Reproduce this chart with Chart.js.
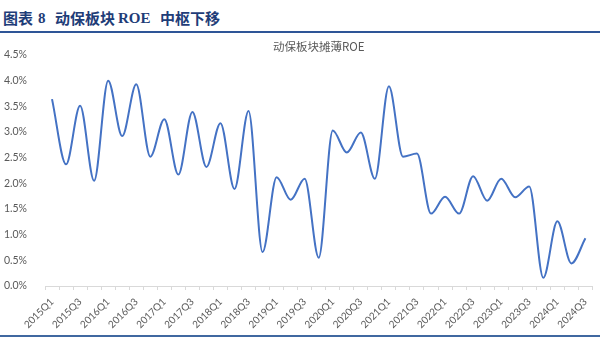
<!DOCTYPE html>
<html>
<head>
<meta charset="utf-8">
<script src="https://cdn.jsdelivr.net/npm/chart.js@4/dist/chart.umd.min.js"></script>
<style>
  html, body { margin: 0; padding: 0; background: #fff; }
  #wrap { position: relative; width: 600px; height: 338px; overflow: hidden; }
  .hd { position: absolute; top: 9px; font-size: 15px; font-weight: bold; color: #1F3D78; line-height: 18px; white-space: nowrap; }
  .cjk { font-family: "Noto Sans CJK SC", sans-serif; }
  .lat { font-family: "Liberation Serif", serif; }
  #rule-top { position: absolute; left: 0; top: 31px; width: 600px; height: 2px; background: #2E5597; }
  #rule-bot { position: absolute; left: 0; top: 335px; width: 600px; height: 2px; background: #4068A0; }
  #box { position: absolute; left: 0; top: 35px; width: 600px; height: 299px; }
</style>
</head>
<body>
<div id="wrap">
  <span class="hd cjk" style="left:3px">图表</span>
  <span class="hd lat" style="left:38px">8</span>
  <span class="hd cjk" style="left:55px">动保板块</span>
  <span class="hd lat" style="left:118px">ROE</span>
  <span class="hd cjk" style="left:160px">中枢下移</span>
  <div id="rule-top"></div>
  <div id="box"><canvas id="c"></canvas></div>
  <div id="rule-bot"></div>
</div>
<script>
// Quarterly diluted ROE of the animal-health sector (%)
const quarters = [
  '2015Q1','2015Q2','2015Q3','2015Q4',
  '2016Q1','2016Q2','2016Q3','2016Q4',
  '2017Q1','2017Q2','2017Q3','2017Q4',
  '2018Q1','2018Q2','2018Q3','2018Q4',
  '2019Q1','2019Q2','2019Q3','2019Q4',
  '2020Q1','2020Q2','2020Q3','2020Q4',
  '2021Q1','2021Q2','2021Q3','2021Q4',
  '2022Q1','2022Q2','2022Q3','2022Q4',
  '2023Q1','2023Q2','2023Q3','2023Q4',
  '2024Q1','2024Q2','2024Q3'
];
const roe = [
  3.64, 2.37, 3.51, 2.05,
  4.00, 2.92, 3.93, 2.52,
  3.25, 2.17, 3.39, 2.32,
  3.17, 1.89, 3.41, 0.66,
  2.12, 1.68, 2.09, 0.55,
  3.03, 2.60, 2.99, 2.09,
  3.89, 2.52, 2.58, 1.41,
  1.74, 1.41, 2.14, 1.66,
  2.09, 1.73, 1.94, 0.16,
  1.26, 0.44, 0.93
];
const yTicks = [0, 0.5, 1.0, 1.5, 2.0, 2.5, 3.0, 3.5, 4.0, 4.5];
const chartTitle = '动保板块摊薄ROE';

const labelFont = { family: 'Lato, "Noto Sans CJK SC", sans-serif', size: 10.5 };
const gray = '#595959';

new Chart(document.getElementById('c'), {
  type: 'line',
  data: {
    labels: quarters,
    datasets: [{
      label: chartTitle,
      data: roe,
      borderColor: '#4472C4',
      borderWidth: 2,
      pointRadius: 0,
      cubicInterpolationMode: 'monotone',
      fill: false
    }]
  },
  options: {
    responsive: true,
    maintainAspectRatio: false,
    animation: false,
    layout: { padding: { left: 0, right: 3, top: 0, bottom: 0 } },
    plugins: {
      legend: { display: false },
      tooltip: { enabled: false },
      title: {
        display: true,
        text: chartTitle,
        fullSize: false,
        color: gray,
        font: { family: '"Noto Sans CJK SC", Lato, sans-serif', size: 11.5, weight: 'normal' },
        padding: { top: 5, bottom: 1.2 }
      }
    },
    scales: {
      x: {
        offset: true,
        grid: {
          offset: true,
          drawOnChartArea: false,
          drawTicks: true,
          tickLength: 4,
          color: '#D9D9D9'
        },
        border: { display: true, color: '#D9D9D9', width: 1 },
        ticks: {
          autoSkip: false,
          maxRotation: 45,
          minRotation: 45,
          padding: 6,
          color: gray,
          font: { family: labelFont.family, size: 10 },
          callback: function (v, i) { return i % 2 === 0 ? quarters[i] : ''; }
        },
        afterFit: function (s) { s.height = 48; }
      },
      y: {
        min: 0,
        max: 4.5,
        afterBuildTicks: function (s) { s.ticks = yTicks.map(v => ({ value: v })); },
        grid: { display: false },
        border: { display: false },
        ticks: {
          padding: 10,
          color: gray,
          font: labelFont,
          callback: function (v) { return Number(v).toFixed(1) + '%'; }
        },
        afterFit: function (s) { s.width = 45; }
      }
    }
  }
});
</script>
</body>
</html>
